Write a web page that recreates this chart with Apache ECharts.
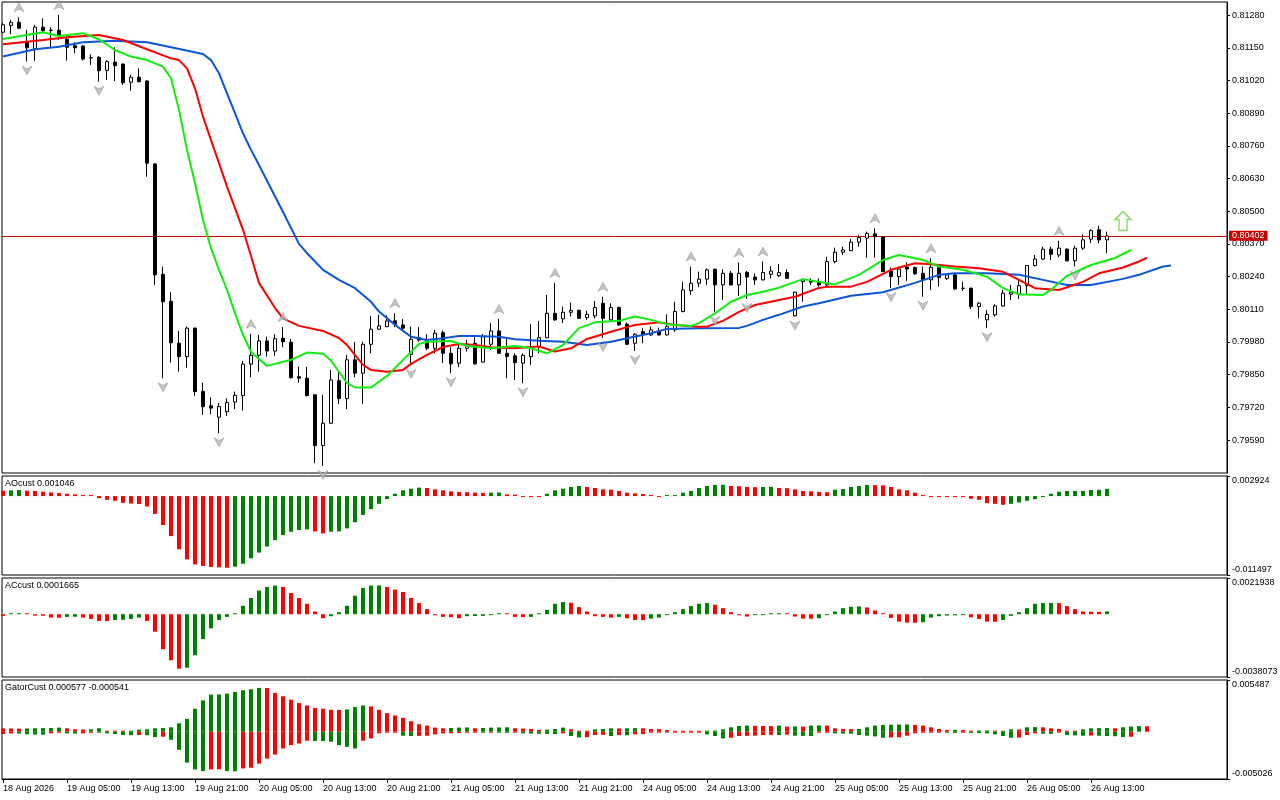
<!DOCTYPE html>
<html><head><meta charset="utf-8">
<script src="https://cdn.jsdelivr.net/npm/echarts@6/dist/echarts.min.js"></script>
<style>html,body{margin:0;padding:0;background:#fff}#c{width:1280px;height:800px}</style>
</head><body><div id="c"></div>
<script>
// ---------- DATA ----------
const opens = [
0.81212,0.81239,0.81251,0.81174,0.81146,0.81232,0.81220,0.81220,0.81184,0.81158,
0.81157,0.81111,0.81112,0.81060,0.81093,0.81085,0.81013,0.81033,0.81018,0.80688,
0.80249,0.80142,0.79975,0.79922,0.80035,0.79783,0.79726,0.79681,0.79703,0.79741,
0.79767,0.79892,0.79927,0.79984,0.79944,0.79995,0.79979,0.79842,0.79836,0.79770,
0.79568,0.79657,0.79826,0.79755,0.79909,0.79856,0.79971,0.80031,0.80041,0.80064,
0.80048,0.79931,0.79997,0.79988,0.79955,0.80017,0.79935,0.79896,0.79955,0.79975,
0.79900,0.79971,0.80024,0.79935,0.79925,0.79896,0.79922,0.79962,0.79997,0.80094,
0.80072,0.80098,0.80106,0.80077,0.80084,0.80134,0.80068,0.80117,0.80051,0.79975,
0.80021,0.80008,0.80021,0.80008,0.80028,0.80101,0.80184,0.80214,0.80230,0.80269,
0.80207,0.80253,0.80207,0.80257,0.80238,0.80227,0.80249,0.80244,0.80256,0.80084,
0.80220,0.80224,0.80220,0.80207,0.80300,0.80337,0.80343,0.80377,0.80393,0.80410,
0.80399,0.80262,0.80240,0.80278,0.80276,0.80253,0.80227,0.80277,0.80233,0.80247,
0.80194,0.80194,0.80121,0.80068,0.80088,0.80123,0.80170,0.80170,0.80204,0.80284,
0.80310,0.80349,0.80326,0.80349,0.80303,0.80353,0.80389,0.80426,0.80386];
const highs = [
0.81249,0.81261,0.81271,0.81221,0.81241,0.81267,0.81232,0.81280,0.81194,0.81172,
0.81161,0.81124,0.81117,0.81101,0.81152,0.81088,0.81042,0.81068,0.81022,0.80691,
0.80280,0.80178,0.80024,0.80041,0.80037,0.79818,0.79760,0.79737,0.79756,0.79783,
0.79905,0.80012,0.80008,0.80001,0.80011,0.80039,0.79992,0.79882,0.79881,0.79772,
0.79770,0.79869,0.79866,0.79929,0.79980,0.79981,0.80084,0.80088,0.80086,0.80095,
0.80071,0.80041,0.80039,0.80011,0.80028,0.80025,0.79959,0.79972,0.79988,0.79999,
0.80012,0.80055,0.80071,0.79997,0.79935,0.79935,0.80051,0.80064,0.80167,0.80215,
0.80121,0.80137,0.80108,0.80104,0.80143,0.80160,0.80134,0.80121,0.80058,0.80015,
0.80035,0.80041,0.80037,0.80090,0.80140,0.80220,0.80280,0.80260,0.80273,0.80272,
0.80269,0.80262,0.80296,0.80262,0.80253,0.80300,0.80282,0.80289,0.80269,0.80180,
0.80233,0.80233,0.80233,0.80319,0.80355,0.80359,0.80389,0.80406,0.80419,0.80432,
0.80401,0.80276,0.80280,0.80297,0.80280,0.80280,0.80313,0.80280,0.80253,0.80249,
0.80220,0.80196,0.80138,0.80107,0.80130,0.80187,0.80207,0.80227,0.80286,0.80326,
0.80359,0.80359,0.80382,0.80353,0.80363,0.80408,0.80428,0.80443,0.80419];
const lows = [
0.81209,0.81204,0.81224,0.81095,0.81098,0.81212,0.81154,0.81181,0.81099,0.81128,
0.81099,0.81082,0.81015,0.81022,0.81018,0.81002,0.80979,0.81013,0.80637,0.80207,
0.79836,0.79898,0.79862,0.79878,0.79766,0.79690,0.79692,0.79617,0.79686,0.79713,
0.79707,0.79840,0.79862,0.79922,0.79925,0.79959,0.79835,0.79818,0.79763,0.79498,
0.79487,0.79655,0.79733,0.79713,0.79840,0.79734,0.79935,0.80028,0.80039,0.80039,
0.80028,0.79889,0.79981,0.79948,0.79935,0.79896,0.79856,0.79880,0.79942,0.79890,
0.79898,0.79948,0.79933,0.79836,0.79829,0.79816,0.79889,0.79935,0.79995,0.80064,
0.80055,0.80081,0.80072,0.80068,0.80074,0.79996,0.80064,0.80045,0.79968,0.79944,
0.79975,0.80004,0.80005,0.80006,0.80021,0.80098,0.80167,0.80198,0.80207,0.80100,
0.80147,0.80205,0.80163,0.80151,0.80207,0.80225,0.80233,0.80238,0.80231,0.80081,
0.80140,0.80207,0.80200,0.80200,0.80293,0.80326,0.80342,0.80359,0.80315,0.80315,
0.80258,0.80194,0.80207,0.80223,0.80247,0.80160,0.80187,0.80200,0.80227,0.80187,
0.80183,0.80111,0.80074,0.80035,0.80081,0.80121,0.80147,0.80151,0.80167,0.80280,
0.80306,0.80306,0.80317,0.80300,0.80280,0.80346,0.80373,0.80373,0.80333];
const closes = [
0.81241,0.81251,0.81228,0.81150,0.81232,0.81218,0.81219,0.81201,0.81152,0.81150,
0.81105,0.81110,0.81059,0.81095,0.81079,0.81011,0.81033,0.81015,0.80691,0.80247,
0.80140,0.79977,0.79922,0.80035,0.79783,0.79723,0.79717,0.79723,0.79739,0.79768,
0.79892,0.79927,0.79984,0.79944,0.79993,0.79981,0.79838,0.79836,0.79767,0.79568,
0.79657,0.79829,0.79755,0.79909,0.79856,0.79971,0.80031,0.80044,0.80064,0.80051,
0.80035,0.79991,0.79988,0.79955,0.80015,0.79935,0.79893,0.79955,0.79972,0.79893,
0.80001,0.80024,0.79935,0.79922,0.79898,0.79927,0.79962,0.79997,0.80094,0.80068,
0.80098,0.80105,0.80074,0.80090,0.80117,0.80074,0.80117,0.80048,0.79971,0.80011,
0.80011,0.80028,0.80008,0.80041,0.80101,0.80187,0.80214,0.80230,0.80267,0.80207,
0.80253,0.80207,0.80253,0.80238,0.80227,0.80256,0.80262,0.80256,0.80233,0.80178,
0.80227,0.80218,0.80207,0.80300,0.80337,0.80346,0.80377,0.80395,0.80412,0.80399,
0.80260,0.80240,0.80270,0.80270,0.80251,0.80227,0.80277,0.80236,0.80247,0.80191,
0.80193,0.80121,0.80134,0.80090,0.80123,0.80174,0.80178,0.80204,0.80284,0.80310,
0.80349,0.80329,0.80353,0.80303,0.80353,0.80386,0.80423,0.80386,0.80402];

// Alligator lines: [bar index, price]
const jawPoints = [[0,0.81115],[4,0.81144],[7,0.81154],[10,0.81172],[14,0.81178],[18,0.81172],[21,0.81152],[25,0.81125],[26,0.81101],[27,0.81049],[28,0.80969],[29,0.80890],[30,0.80810],[31,0.80744],[32,0.80684],[35,0.80497],[37,0.80370],[38,0.80333],[40,0.80267],[42,0.80227],[44,0.80194],[46,0.80140],[47,0.80101],[49,0.80048],[51,0.80001],[53,0.79988],[55,0.79995],[57,0.80004],[59,0.80004],[62,0.80001],[64,0.79991],[67,0.79985],[70,0.79981],[73,0.79968],[76,0.79981],[78,0.79995],[81,0.80015],[83,0.80032],[87,0.80035],[92,0.80036],[93,0.80044],[95,0.80068],[97,0.80088],[100,0.80121],[102,0.80134],[106,0.80164],[110,0.80178],[114,0.80215],[117,0.80247],[119,0.80253],[123,0.80253],[127,0.80247],[130,0.80227],[133,0.80207],[136,0.80207],[140,0.80231],[142,0.80247],[145,0.80280],[146,0.80284]];
const teethPoints = [[0,0.81164],[5,0.81181],[8,0.81192],[12,0.81201],[15,0.81181],[18,0.81144],[21,0.81108],[22,0.81101],[23,0.81068],[24,0.80989],[25,0.80876],[26,0.80783],[27,0.80691],[28,0.80598],[29,0.80512],[30,0.80426],[31,0.80322],[32,0.80215],[34,0.80115],[35,0.80074],[37,0.80044],[40,0.80024],[42,0.79996],[43,0.79968],[45,0.79889],[46,0.79869],[48,0.79862],[50,0.79869],[51,0.79893],[53,0.79929],[55,0.79960],[57,0.79972],[59,0.79968],[61,0.79959],[64,0.79955],[66,0.79960],[67,0.79962],[69,0.79942],[71,0.79955],[73,0.79992],[76,0.80021],[79,0.80048],[82,0.80058],[84,0.80048],[87,0.80041],[88,0.80041],[90,0.80064],[92,0.80100],[94,0.80127],[97,0.80147],[99,0.80160],[102,0.80195],[103,0.80200],[106,0.80200],[108,0.80219],[111,0.80267],[114,0.80293],[116,0.80289],[119,0.80280],[122,0.80273],[125,0.80259],[127,0.80227],[129,0.80194],[132,0.80187],[135,0.80219],[137,0.80253],[140,0.80276],[142,0.80300],[143,0.80315]];
const lipsPoints = [[0,0.81185],[5,0.81212],[7,0.81197],[10,0.81208],[12,0.81184],[14,0.81141],[16,0.81115],[18,0.81101],[20,0.81075],[21,0.81029],[22,0.80903],[23,0.80744],[24,0.80611],[25,0.80465],[26,0.80353],[27,0.80267],[28,0.80187],[29,0.80094],[30,0.80008],[31,0.79940],[33,0.79885],[36,0.79909],[38,0.79938],[40,0.79933],[41,0.79906],[43,0.79817],[44,0.79799],[46,0.79799],[48,0.79845],[50,0.79909],[52,0.79972],[53,0.79981],[56,0.79984],[58,0.79964],[61,0.79955],[64,0.79964],[66,0.79955],[68,0.79935],[70,0.79968],[72,0.80035],[74,0.80058],[77,0.80064],[79,0.80081],[81,0.80068],[83,0.80051],[86,0.80044],[87,0.80055],[89,0.80094],[91,0.80140],[93,0.80167],[95,0.80180],[97,0.80196],[100,0.80230],[102,0.80219],[104,0.80209],[107,0.80247],[110,0.80306],[112,0.80326],[115,0.80306],[117,0.80280],[120,0.80267],[123,0.80240],[125,0.80194],[127,0.80170],[130,0.80167],[131,0.80187],[133,0.80243],[136,0.80286],[139,0.80314],[141,0.80346]];

const fractalUpIdx = [2,7,31,35,49,62,69,75,86,92,95,109,116,132];
const fractalDownIdx = [3,12,20,27,40,51,56,65,75,79,89,93,99,111,115,123,134];
const signalIdx = [140];
const signalPrice = [0.80461];

const ao = [0.000784,0.000833,0.000882,0.000784,0.000735,0.000637,0.000539,0.000441,0.000343,0.000245,
0.000147,0.000049,-0.000294,-0.000539,-0.000686,-0.000980,-0.001078,-0.001152,-0.001519,-0.002597,
-0.004214,-0.005831,-0.007742,-0.009212,-0.009947,-0.010192,-0.010339,-0.010388,-0.010437,-0.010290,
-0.009849,-0.009065,-0.008232,-0.007350,-0.006419,-0.005684,-0.005194,-0.004949,-0.004851,-0.005145,
-0.005439,-0.005194,-0.005145,-0.004704,-0.003822,-0.002744,-0.001911,-0.001127,-0.000441,0.000343,
0.000833,0.001078,0.001225,0.001176,0.000980,0.000833,0.000686,0.000588,0.000564,0.000490,
0.000466,0.000490,0.000515,0.000245,0.000196,-0.000074,-0.000098,-0.000123,0.000343,0.000833,
0.001078,0.001323,0.001470,0.001323,0.001176,0.000980,0.000931,0.000735,0.000490,0.000392,
0.000294,0.000147,-0.000049,0.000049,0.000147,0.000490,0.000735,0.001176,0.001470,0.001617,
0.001642,0.001470,0.001446,0.001323,0.001299,0.001323,0.001348,0.001176,0.001152,0.000980,
0.000735,0.000686,0.000588,0.000564,0.000931,0.001029,0.001323,0.001470,0.001617,0.001593,
0.001568,0.001323,0.000980,0.000833,0.000490,0.000098,-0.000049,-0.000059,-0.000069,-0.000078,
-0.000098,-0.000392,-0.000539,-0.001029,-0.001127,-0.001274,-0.001127,-0.000931,-0.000686,-0.000441,
-0.000049,0.000343,0.000637,0.000735,0.000745,0.000755,0.000882,0.000907,0.001046];

const ac = [-0.000102,0.000010,0.000020,0.000010,-0.000082,-0.000092,-0.000204,-0.000214,-0.000163,-0.000153,
-0.000204,-0.000286,-0.000408,-0.000418,-0.000347,-0.000337,-0.000286,-0.000204,-0.000408,-0.001061,
-0.002122,-0.002795,-0.003305,-0.003244,-0.002489,-0.001510,-0.000857,-0.000347,-0.000163,0.000061,
0.000510,0.000979,0.001428,0.001652,0.001734,0.001652,0.001285,0.000979,0.000632,0.000163,
-0.000245,-0.000122,0.000122,0.000510,0.001122,0.001591,0.001734,0.001744,0.001652,0.001489,
0.001346,0.000979,0.000673,0.000306,-0.000041,-0.000163,-0.000173,-0.000245,-0.000122,-0.000112,
-0.000102,-0.000020,0.000041,0.000010,-0.000163,-0.000173,-0.000163,0.000041,0.000265,0.000632,
0.000734,0.000694,0.000428,0.000163,-0.000122,-0.000163,-0.000204,-0.000163,-0.000245,-0.000347,
-0.000357,-0.000265,-0.000204,-0.000020,0.000122,0.000306,0.000490,0.000632,0.000673,0.000571,
0.000367,0.000122,-0.000020,-0.000143,-0.000020,-0.000010,0.000000,0.000006,0.000000,-0.000143,
-0.000265,-0.000275,-0.000245,-0.000061,0.000163,0.000367,0.000449,0.000469,0.000408,0.000224,
0.000020,-0.000224,-0.000449,-0.000510,-0.000520,-0.000490,-0.000204,-0.000122,-0.000082,-0.000071,
-0.000061,-0.000184,-0.000286,-0.000449,-0.000459,-0.000347,-0.000102,0.000122,0.000367,0.000632,
0.000673,0.000683,0.000673,0.000490,0.000306,0.000163,0.000153,0.000143,0.0001665];

const gatorUp = [0.000358,0.000340,0.000322,0.000340,0.000358,0.000375,0.000393,0.000429,0.000358,0.000250,
0.000232,0.000250,0.000358,0.000107,0.000072,0.000036,0.000107,0.000215,0.000250,0.000358,
0.000393,0.000465,0.000894,0.001359,0.002432,0.003326,0.003934,0.003951,0.004041,0.004220,
0.004398,0.004506,0.004649,0.004631,0.004112,0.003755,0.003397,0.003040,0.002789,0.002503,
0.002432,0.002324,0.002307,0.002360,0.002610,0.002789,0.002682,0.002324,0.001967,0.001716,
0.001466,0.001109,0.000787,0.000644,0.000429,0.000358,0.000393,0.000429,0.000447,0.000358,
0.000393,0.000429,0.000447,0.000465,0.000358,0.000322,0.000286,0.000179,0.000215,0.000286,
0.000429,0.000250,0.000072,0.000036,0.000250,0.000286,0.000358,0.000340,0.000358,0.000375,
0.000358,0.000286,0.000268,0.000179,0.000072,0.000054,0.000036,0.000018,0.000107,0.000125,
0.000250,0.000465,0.000608,0.000644,0.000626,0.000608,0.000590,0.000644,0.000536,0.000554,
0.000536,0.000644,0.000662,0.000644,0.000358,0.000286,0.000268,0.000286,0.000465,0.000644,
0.000715,0.000733,0.000751,0.000769,0.000715,0.000644,0.000465,0.000286,0.000179,0.000197,
0.000179,0.000107,0.000125,0.000136,0.000018,0.000072,0.000250,0.000232,0.000465,0.000483,
0.000465,0.000358,0.000286,0.000107,0.000089,0.000250,0.000358,0.000375,0.000393,0.000358,
0.000465,0.000536,0.000590,0.000577];
const gatorDown = [-0.000250,-0.000179,-0.000197,-0.000286,-0.000304,-0.000322,-0.000179,-0.000107,-0.000179,-0.000197,
-0.000179,-0.000072,-0.000107,-0.000179,-0.000250,-0.000358,-0.000375,-0.000358,-0.000375,-0.000572,
-0.000536,-0.000858,-0.001931,-0.003290,-0.004005,-0.004184,-0.004005,-0.003987,-0.004184,-0.004202,
-0.003898,-0.003826,-0.003397,-0.002861,-0.002432,-0.001788,-0.001430,-0.001252,-0.000966,-0.000983,
-0.001001,-0.001073,-0.001430,-0.001609,-0.001788,-0.000966,-0.000715,-0.000179,-0.000107,-0.000089,
-0.000429,-0.000465,-0.000447,-0.000429,-0.000286,-0.000179,-0.000161,-0.000143,-0.000107,-0.000089,
-0.000107,-0.000089,-0.000107,-0.000125,-0.000107,-0.000179,-0.000197,-0.000215,-0.000232,-0.000250,
-0.000179,-0.000465,-0.000608,-0.000590,-0.000358,-0.000340,-0.000465,-0.000358,-0.000375,-0.000286,
-0.000268,-0.000107,-0.000089,-0.000107,-0.000072,-0.000054,-0.000036,-0.000018,-0.000286,-0.000465,
-0.000715,-0.000644,-0.000465,-0.000447,-0.000429,-0.000358,-0.000340,-0.000358,-0.000322,-0.000429,
-0.000447,-0.000465,-0.000072,-0.000036,-0.000179,-0.000197,-0.000215,-0.000358,-0.000429,-0.000501,
-0.000644,-0.000608,-0.000590,-0.000429,-0.000179,-0.000107,-0.000089,-0.000072,-0.000107,-0.000125,
-0.000107,-0.000125,-0.000143,-0.000179,-0.000286,-0.000465,-0.000644,-0.000626,-0.000358,-0.000179,
-0.000215,-0.000232,-0.000107,-0.000358,-0.000393,-0.000429,-0.000411,-0.000429,-0.000465,-0.000483,
-0.000572,-0.000541];

const priceTicks = [0.81280,0.81150,0.81020,0.80890,0.80760,0.80630,0.80500,0.80370,0.80240,0.80110,0.79980,0.79850,0.79720,0.79590];
const priceRange = [0.79459, 0.81332];
const aoRange = [-0.011497, 0.002924];
const acRange = [-0.0038073, 0.0021938];
const gatorRange = [-0.005026, 0.005487];
const timeLabelIdx = [0,8,16,24,32,40,48,56,64,72,80,88,96,104,112,120,128,136];
const timeLabels = ['18 Aug 2026','19 Aug 05:00','19 Aug 13:00','19 Aug 21:00','20 Aug 05:00','20 Aug 13:00','20 Aug 21:00','21 Aug 05:00','21 Aug 13:00','21 Aug 21:00','24 Aug 05:00','24 Aug 13:00','24 Aug 21:00','25 Aug 05:00','25 Aug 13:00','25 Aug 21:00','26 Aug 05:00','26 Aug 13:00'];

// ---------- CHART ----------
const FONT = 'Liberation Sans';
const FS = 9;
const UP = '#008000', DN = '#ff0000';
const XMIN = -0.125, XMAX = 153;
const chart = echarts.init(document.getElementById('c'), null, {renderer: 'canvas'});

const gridDefs = [
  {left: 2, top: 2, width: 1225, height: 471},
  {left: 2, top: 476, width: 1225, height: 99},
  {left: 2, top: 578, width: 1225, height: 99},
  {left: 2, top: 680, width: 1225, height: 99}
].map(g => Object.assign({show: true, borderColor: '#000', borderWidth: 1, backgroundColor: 'transparent',
  containLabel: false, outerBoundsMode: 'none'}, g));

const xAxes = [0,1,2,3].map(k => ({
  type: 'value', gridIndex: k, min: XMIN, max: XMAX, show: k === 3, position: 'bottom',
  splitLine: {show: false},
  axisLine: {show: true, onZero: false, lineStyle: {color: '#000', width: 1}},
  axisTick: {show: true, customValues: timeLabelIdx, length: 4, lineStyle: {color: '#000'}},
  axisLabel: {show: true, customValues: timeLabelIdx, align: 'left', margin: 5,
    fontFamily: FONT, fontSize: FS, color: '#000',
    formatter: v => { const j = timeLabelIdx.indexOf(Math.round(v)); return j >= 0 ? timeLabels[j] : ''; }}
}));

function subAxis(k, range) {
  return {
    type: 'value', gridIndex: k, position: 'right', min: range[0], max: range[1],
    splitLine: {show: false},
    axisLine: {show: true, onZero: false, lineStyle: {color: '#000'}},
    axisTick: {show: true, customValues: range, length: 3, lineStyle: {color: '#000'}},
    axisLabel: {show: true, customValues: range, margin: 5,
      formatter: v => (v > 0 ? '{t|' : '{b|') + String(v) + '}',
      rich: {
        t: {padding: [9, 0, 0, 0], fontFamily: FONT, fontSize: FS, color: '#000'},
        b: {padding: [0, 0, 10, 0], fontFamily: FONT, fontSize: FS, color: '#000'}
      }}
  };
}

const yAxes = [
  {type: 'value', gridIndex: 0, position: 'right', min: priceRange[0], max: priceRange[1],
   splitLine: {show: false},
   axisLine: {show: true, onZero: false, lineStyle: {color: '#000'}},
   axisTick: {show: true, customValues: priceTicks, length: 3, lineStyle: {color: '#000'}},
   axisLabel: {show: true, customValues: priceTicks, margin: 5, fontFamily: FONT, fontSize: FS, color: '#000',
     formatter: v => v.toFixed(5)}},
  subAxis(1, aoRange), subAxis(2, acRange), subAxis(3, gatorRange)
];

const risingColor = arr => (p => (p.dataIndex > 0 && arr[p.dataIndex] > arr[p.dataIndex - 1]) ? UP : DN);
const growingColor = arr => (p => (p.dataIndex > 0 && Math.abs(arr[p.dataIndex]) > Math.abs(arr[p.dataIndex - 1])) ? UP : DN);

const lastIdx = closes.length - 1;
const lastClose = closes[lastIdx];

const series = [
  {
    type: 'line', name: 'lastPrice', xAxisIndex: 0, yAxisIndex: 0, z: 1,
    data: [[lastIdx, lastClose]], symbol: 'none', showSymbol: false, lineStyle: {opacity: 0},
    markLine: {
      silent: true, symbol: ['none', 'none'], animation: false, z: 1, precision: 5,
      lineStyle: {color: '#d40000', width: 1, type: 'solid'},
      label: {show: true, position: 'end', distance: 2, formatter: () => lastClose.toFixed(5),
        backgroundColor: '#c80000', color: '#ffffff', fontFamily: FONT, fontSize: FS, padding: [1, 3, 0, 3]},
      emphasis: {disabled: true},
      data: [{yAxis: lastClose}]
    }
  },
  {
    type: 'candlestick', name: 'price', xAxisIndex: 0, yAxisIndex: 0, z: 2,
    data: opens.map((o, i) => [i, o, closes[i], lows[i], highs[i]]),
    encode: {x: 0, y: [1, 2, 3, 4]},
    barWidth: 4,
    itemStyle: {color: '#ffffff', color0: '#000000', borderColor: '#000000', borderColor0: '#000000', borderColorDoji: '#000000', borderWidth: 1}
  },
  {type: 'line', name: 'jaw', xAxisIndex: 0, yAxisIndex: 0, z: 3, data: jawPoints, showSymbol: false, symbol: 'none',
   lineStyle: {color: '#0b55d6', width: 2}},
  {type: 'line', name: 'teeth', xAxisIndex: 0, yAxisIndex: 0, z: 3, data: teethPoints, showSymbol: false, symbol: 'none',
   lineStyle: {color: '#ff0000', width: 2}},
  {type: 'line', name: 'lips', xAxisIndex: 0, yAxisIndex: 0, z: 3, data: lipsPoints, showSymbol: false, symbol: 'none',
   lineStyle: {color: '#10ee10', width: 2}},
  {type: 'scatter', name: 'fractalUp', xAxisIndex: 0, yAxisIndex: 0, z: 4,
   data: fractalUpIdx.map(i => [i, highs[i]]),
   symbol: 'path://M5,0L10,10L5,7L0,10Z', symbolSize: [10, 9], symbolOffset: [0, -10],
   itemStyle: {color: '#b5b5b5', borderColor: '#8a8a8a', borderWidth: 0.6}},
  {type: 'scatter', name: 'fractalDown', xAxisIndex: 0, yAxisIndex: 0, z: 4,
   data: fractalDownIdx.map(i => [i, lows[i]]),
   symbol: 'path://M0,0L5,3L10,0L5,10Z', symbolSize: [10, 9], symbolOffset: [0, 9],
   itemStyle: {color: '#b5b5b5', borderColor: '#8a8a8a', borderWidth: 0.6}},
  {type: 'scatter', name: 'signal', xAxisIndex: 0, yAxisIndex: 0, z: 4,
   data: signalIdx.map((i, k) => [i, signalPrice[k]]),
   symbol: 'path://M8,0L16,8L12,8L12,19L4,19L4,8L0,8Z', symbolSize: [16, 19],
   itemStyle: {color: '#ffffff', borderColor: '#6cd13f', borderWidth: 1.5}},
  {type: 'bar', name: 'AO', xAxisIndex: 1, yAxisIndex: 1, barWidth: 4, barMinHeight: 1,
   data: ao.map((v, i) => [i, v]), itemStyle: {color: risingColor(ao)}},
  {type: 'bar', name: 'AC', xAxisIndex: 2, yAxisIndex: 2, barWidth: 4, barMinHeight: 1,
   data: ac.map((v, i) => [i, v]), itemStyle: {color: risingColor(ac)}},
  {type: 'bar', name: 'GatorUp', xAxisIndex: 3, yAxisIndex: 3, barWidth: 4, barGap: '-100%', barMinHeight: 1,
   data: gatorUp.map((v, i) => [i, v]), itemStyle: {color: risingColor(gatorUp)}},
  {type: 'bar', name: 'GatorDown', xAxisIndex: 3, yAxisIndex: 3, barWidth: 4, barGap: '-100%', barMinHeight: 1,
   data: gatorDown.map((v, i) => [i, v]), itemStyle: {color: growingColor(gatorDown)}}
];

const titleStyle = {fontFamily: FONT, fontSize: FS, fontWeight: 'normal', color: '#000'};
const titles = [
  {text: 'AOcust ' + ao[ao.length - 1].toFixed(6), left: 5, top: 479, padding: 0, textStyle: titleStyle},
  {text: 'ACcust ' + ac[ac.length - 1].toFixed(7), left: 5, top: 581, padding: 0, textStyle: titleStyle},
  {text: 'GatorCust ' + gatorUp[gatorUp.length - 1].toFixed(6) + ' ' + gatorDown[gatorDown.length - 1].toFixed(6),
   left: 5, top: 683, padding: 0, textStyle: titleStyle}
];

chart.setOption({
  backgroundColor: '#ffffff',
  animation: false,
  title: titles,
  grid: gridDefs,
  xAxis: xAxes,
  yAxis: yAxes,
  series: series
});
</script>
</body></html>
